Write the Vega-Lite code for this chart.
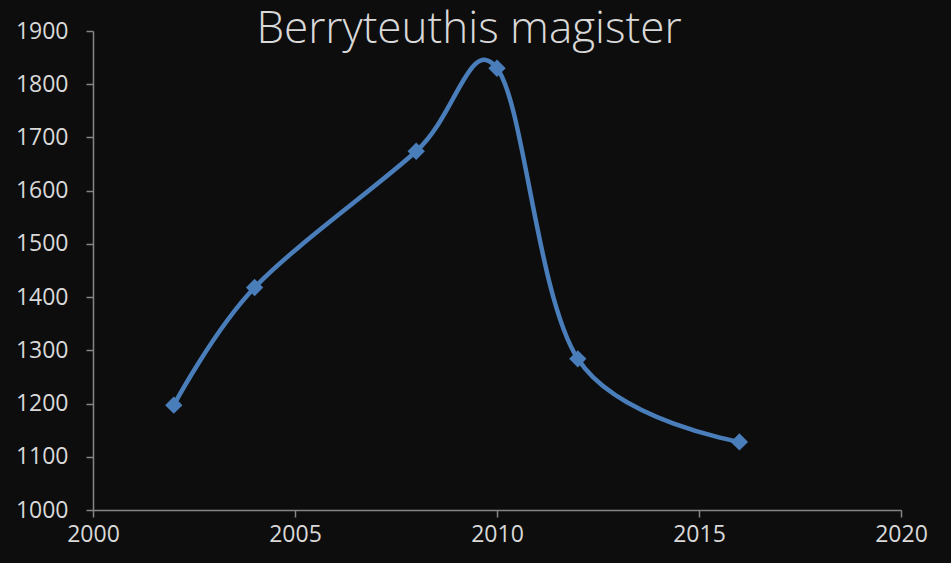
{
  "$schema": "https://vega.github.io/schema/vega-lite/v6.json",
  "width": 808,
  "height": 479,
  "autosize": {"type": "none"},
  "padding": {"left": 93, "top": 31, "right": 50, "bottom": 53},
  "background": "#0d0d0d",
  "config": {
    "view": {"stroke": null},
    "font": "Open Sans"
  },
  "title": {
    "text": "Berryteuthis magister",
    "color": "#d9d9d9",
    "fontSize": 44,
    "font": "Open Sans",
    "fontWeight": 300,
    "anchor": "middle",
    "dx": -28,
    "offset": -30,
    "baseline": "alphabetic",
    "dy": 37
  },
  "data": {
    "values": [
      {"year": 2002, "value": 1197},
      {"year": 2004, "value": 1418},
      {"year": 2008, "value": 1674},
      {"year": 2010, "value": 1830},
      {"year": 2012, "value": 1284},
      {"year": 2016, "value": 1128}
    ]
  },
  "encoding": {
    "x": {
      "field": "year",
      "type": "quantitative",
      "scale": {"domain": [2000, 2020], "nice": false, "zero": false},
      "axis": {
        "title": null,
        "values": [2000, 2005, 2010, 2015, 2020],
        "format": "d",
        "grid": false,
        "labelFlush": false,
        "labelOverlap": false,
        "labelBound": false,
        "domainColor": "#868686",
        "domainWidth": 1.5,
        "tickColor": "#868686",
        "tickWidth": 1.5,
        "tickSize": 7,
        "labelColor": "#d9d9d9",
        "labelFontSize": 23,
        "labelPadding": 6,
        "labelFont": "Open Sans"
      }
    },
    "y": {
      "field": "value",
      "type": "quantitative",
      "scale": {"domain": [1000, 1900], "nice": false, "zero": false},
      "axis": {
        "title": null,
        "values": [1000, 1100, 1200, 1300, 1400, 1500, 1600, 1700, 1800, 1900],
        "format": "d",
        "grid": false,
        "labelFlush": false,
        "labelOverlap": false,
        "domainColor": "#868686",
        "domainWidth": 1.5,
        "tickColor": "#868686",
        "tickWidth": 1.5,
        "tickSize": 7,
        "labelColor": "#d9d9d9",
        "labelFontSize": 23,
        "labelPadding": 18,
        "labelFont": "Open Sans"
      }
    }
  },
  "layer": [
    {
      "mark": {"type": "line", "interpolate": "cardinal", "tension": 0, "color": "#4a7ebb", "strokeWidth": 4.5}
    },
    {
      "mark": {"type": "point", "shape": "diamond", "filled": true, "color": "#4a7ebb", "opacity": 1, "size": 300}
    }
  ]
}
